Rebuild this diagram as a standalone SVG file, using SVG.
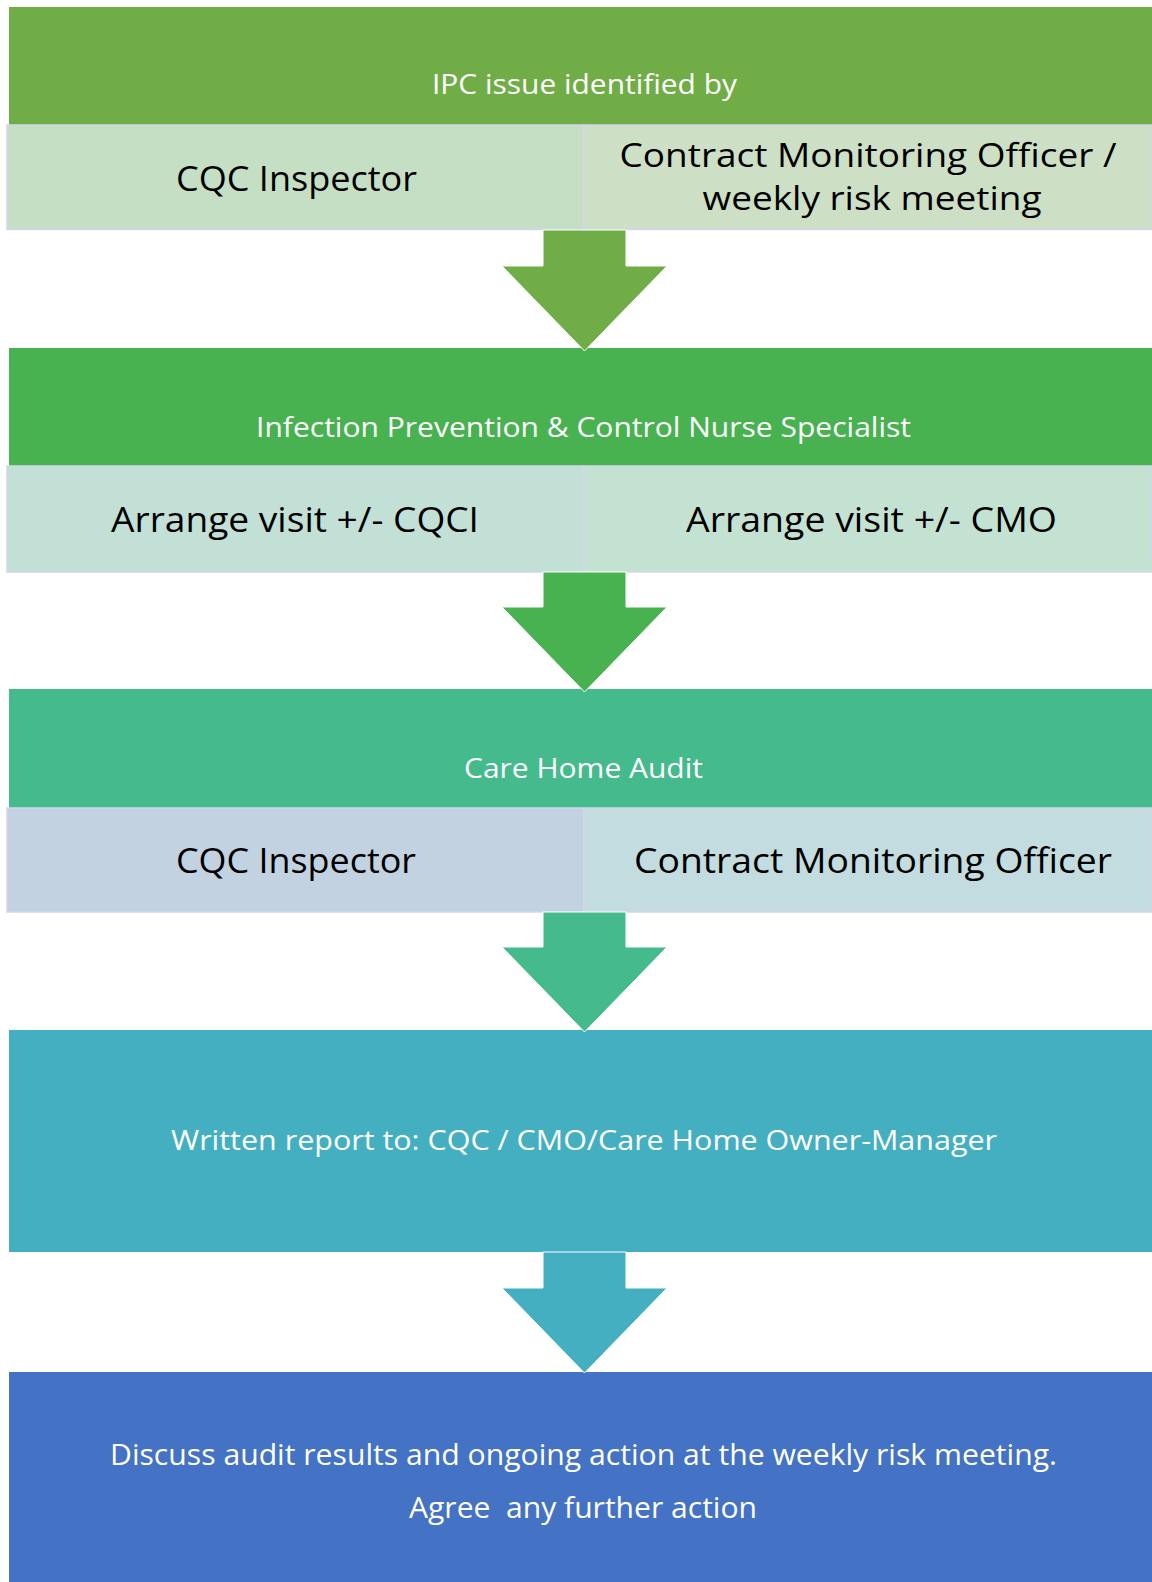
<svg xmlns="http://www.w3.org/2000/svg" width="1152" height="1582" viewBox="0 0 1152 1582">
  <style>
    .hdr { font-family: "Open Sans", "Liberation Sans", sans-serif; font-size: 28px; fill: #ffffff; text-anchor: middle; }
    .cell { font-family: "Open Sans", "Liberation Sans", sans-serif; font-size: 35px; fill: #000000; text-anchor: middle; }
    .cell2 { font-family: "Open Sans", "Liberation Sans", sans-serif; font-size: 32px; fill: #000000; text-anchor: middle; }
    .big { font-family: "Open Sans", "Liberation Sans", sans-serif; font-size: 29px; fill: #ffffff; text-anchor: middle; white-space: pre; }
    .sub { stroke: #d3d6ea; stroke-width: 1.5; }
    .arrow { stroke: #ffffff; stroke-width: 1; }
  </style>

  <rect width="1152" height="1582" fill="#ffffff"/>

  <!-- Step 1: issue identified -->
  <g id="step1">
    <rect x="9" y="7" width="1143" height="118" fill="#70ad47"/>
    <text class="hdr" x="584.5" y="94" textLength="305" lengthAdjust="spacingAndGlyphs">IPC issue identified by</text>
  </g>
  <g id="step1-cqc">
    <rect class="sub" x="7" y="125" width="577" height="104.5" fill="#c5dfc5"/>
    <text class="cell" x="296.5" y="191" textLength="241" lengthAdjust="spacingAndGlyphs">CQC Inspector</text>
  </g>
  <g id="step1-cmo">
    <rect class="sub" x="584" y="125" width="568" height="104.5" fill="#cddfc4"/>
    <text class="cell2" x="868" y="167" textLength="497" lengthAdjust="spacingAndGlyphs">Contract Monitoring Officer /</text>
    <text class="cell2" x="872" y="210" textLength="339" lengthAdjust="spacingAndGlyphs">weekly risk meeting</text>
  </g>

  <!-- Step 2: nurse specialist -->
  <g id="step2">
    <rect x="9" y="348" width="1143" height="118" fill="#48b251"/>
    <text class="hdr" x="583.5" y="437" textLength="655" lengthAdjust="spacingAndGlyphs">Infection Prevention &amp; Control Nurse Specialist</text>
  </g>
  <g id="step2-cqci">
    <rect class="sub" x="7" y="466" width="577" height="106" fill="#c2e0d5"/>
    <text class="cell" x="295" y="532" textLength="368" lengthAdjust="spacingAndGlyphs">Arrange visit +/- CQCI</text>
  </g>
  <g id="step2-cmo">
    <rect class="sub" x="584" y="466" width="568" height="106" fill="#c4e2d2"/>
    <text class="cell" x="871.5" y="532" textLength="371" lengthAdjust="spacingAndGlyphs">Arrange visit +/- CMO</text>
  </g>

  <!-- Step 3: audit -->
  <g id="step3">
    <rect x="9" y="689" width="1143" height="119" fill="#45ba8c"/>
    <text class="hdr" x="583.5" y="778" textLength="239" lengthAdjust="spacingAndGlyphs">Care Home Audit</text>
  </g>
  <g id="step3-cqc">
    <rect class="sub" x="7" y="808" width="577" height="104" fill="#c2d2e0"/>
    <text class="cell" x="296" y="873" textLength="240" lengthAdjust="spacingAndGlyphs">CQC Inspector</text>
  </g>
  <g id="step3-cmo">
    <rect class="sub" x="584" y="808" width="568" height="104" fill="#c3dcdf"/>
    <text class="cell" x="873" y="873" textLength="478" lengthAdjust="spacingAndGlyphs">Contract Monitoring Officer</text>
  </g>

  <!-- Step 4: report -->
  <g id="step4">
    <rect x="9" y="1030" width="1143" height="222" fill="#44afc1"/>
    <text class="hdr" x="584" y="1150" textLength="826" lengthAdjust="spacingAndGlyphs">Written report to: CQC / CMO/Care Home Owner-Manager</text>
  </g>

  <!-- Step 5: review -->
  <g id="step5">
    <rect x="9" y="1372" width="1143" height="210" fill="#4472c4"/>
    <text class="big" x="583.5" y="1465" textLength="947" lengthAdjust="spacingAndGlyphs">Discuss audit results and ongoing action at the weekly risk meeting.</text>
    <text class="big" x="583" y="1518" textLength="348" lengthAdjust="spacingAndGlyphs">Agree  any further action</text>
  </g>

  <!-- Block arrows between steps -->
  <g id="connectors">
    <polygon class="arrow" fill="#70ad47" points="543,230 626,230 626,266 667,266 584.5,351 502,266 543,266"/>
    <polygon class="arrow" fill="#48b251" points="543,572 626,572 626,607 667,607 584.5,692 502,607 543,607"/>
    <polygon class="arrow" fill="#45ba8c" points="543,912 626,912 626,947 667,947 584.5,1032 502,947 543,947"/>
    <polygon class="arrow" fill="#44afc1" points="543,1252 626,1252 626,1288 667,1288 584.5,1373 502,1288 543,1288"/>
  </g>
</svg>
